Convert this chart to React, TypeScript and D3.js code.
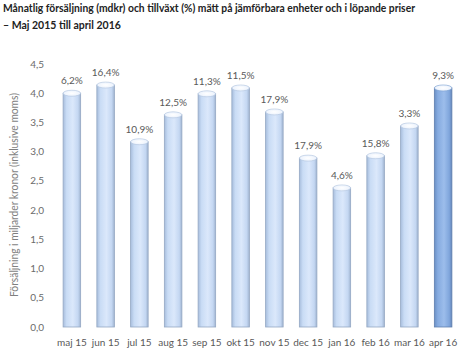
import React from "react";
import * as d3 from "d3";

const months = ["maj 15", "jun 15", "jul 15", "aug 15", "sep 15", "okt 15", "nov 15", "dec 15", "jan 16", "feb 16", "mar 16", "apr 16"];
const sales = [4.0, 4.14, 3.17, 3.63, 3.99, 4.09, 3.68, 2.89, 2.38, 2.93, 3.44, 4.09];
const growth = ["6,2%", "16,4%", "10,9%", "12,5%", "11,3%", "11,5%", "17,9%", "17,9%", "4,6%", "15,8%", "3,3%", "9,3%"];
const yTicks = [0, 0.5, 1, 1.5, 2, 2.5, 3, 3.5, 4, 4.5];

const font = "Lato, 'Open Sans', sans-serif";

const App: React.FC = () => {
  const width = 460;
  const height = 364;

  const x = d3.scaleBand<string>().domain(months).range([55, 460]).paddingInner(0.48).paddingOuter(0.24);
  const y = d3.scaleLinear().domain([0, 4.5]).range([327, 64]);
  const bw = x.bandwidth();
  const fmt = (v: number) => d3.format(".1f")(v).replace(".", ",");

  return (
    <svg width={width} height={height} style={{ position: "absolute", left: 0, top: 0 }}>
      <defs>
        <linearGradient id="barLight" x1="0" x2="1" y1="0" y2="0">
          <stop offset="0" stopColor="#a7bddc" />
          <stop offset="0.2" stopColor="#c9dcf5" />
          <stop offset="0.55" stopColor="#dbe8fb" />
          <stop offset="0.85" stopColor="#c4d7f2" />
          <stop offset="1" stopColor="#9fb3cf" />
        </linearGradient>
        <linearGradient id="barDark" x1="0" x2="1" y1="0" y2="0">
          <stop offset="0" stopColor="#6a8fc4" />
          <stop offset="0.2" stopColor="#86abe0" />
          <stop offset="0.55" stopColor="#9cbdeb" />
          <stop offset="0.85" stopColor="#80a6dc" />
          <stop offset="1" stopColor="#6585b8" />
        </linearGradient>
        <radialGradient id="cap" cx="0.5" cy="0.5" r="0.6">
          <stop offset="0" stopColor="#ffffff" />
          <stop offset="0.7" stopColor="#eef4fd" />
          <stop offset="1" stopColor="#c2d4ee" />
        </radialGradient>
      </defs>

      <text x={3} y={12} fontFamily={font} fontWeight="bold" fontSize={10.5} fill="#222" textLength={412} lengthAdjust="spacingAndGlyphs">
        Månatlig försäljning (mdkr) och tillväxt (%) mätt på jämförbara enheter och i löpande priser
      </text>
      <text x={3} y={29} fontFamily={font} fontWeight="bold" fontSize={10.5} fill="#222">
        – Maj 2015 till april 2016
      </text>

      <text
        transform={`translate(18,195) rotate(-90)`}
        textAnchor="middle"
        fontFamily={font}
        fontSize={10.5}
        fill="#7f7f7f"
        textLength={204}
        lengthAdjust="spacingAndGlyphs"
      >
        Försäljning i miljarder kronor (inklusive moms)
      </text>

      {yTicks.map((t) => (
        <text key={t} x={44} y={y(t)} dy="0.35em" textAnchor="end" fontFamily={font} fontSize={10} fill="#6b6b6b">
          {fmt(t)}
        </text>
      ))}

      {months.map((m, i) => {
        const x0 = x(m)!;
        const top = y(sales[i]);
        const last = i === months.length - 1;
        return (
          <g key={m}>
            <rect
              x={x0}
              y={top}
              width={bw}
              height={y(0) - top}
              fill={last ? "url(#barDark)" : "url(#barLight)"}
              stroke={last ? "#5f7fae" : "#95a8c4"}
              strokeWidth={0.8}
            />
            <ellipse
              cx={x0 + bw / 2}
              cy={top}
              rx={bw / 2}
              ry={3}
              fill="url(#cap)"
              stroke={last ? "#7b9fd0" : "#b4c6df"}
              strokeWidth={0.6}
            />
            <text x={x0 + bw / 2} y={top - 9} textAnchor="middle" fontFamily={font} fontSize={10} fill="#595959">
              {growth[i]}
            </text>
            <text x={x0 + bw / 2} y={346} textAnchor="middle" fontFamily={font} fontSize={10} fill="#595959">
              {m}
            </text>
          </g>
        );
      })}
    </svg>
  );
};

export default App;
